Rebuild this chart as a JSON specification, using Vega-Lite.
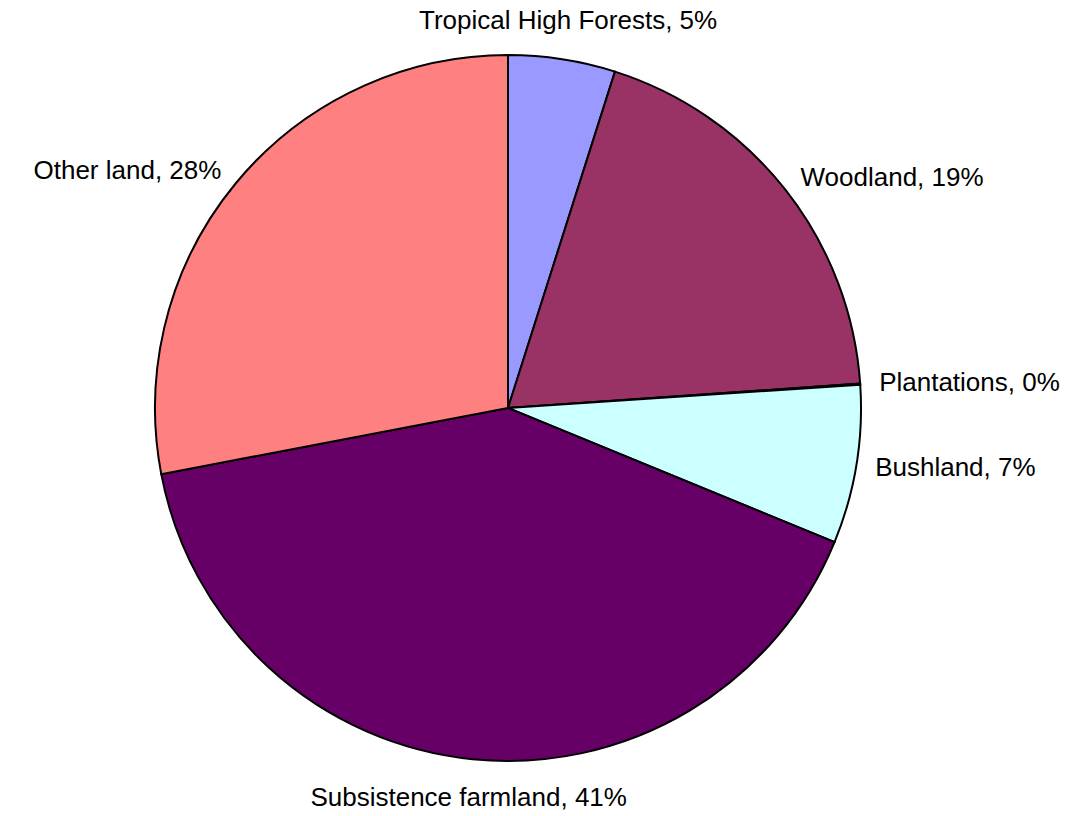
{
  "$schema": "https://vega.github.io/schema/vega-lite/v6.json",
  "width": 1016,
  "height": 816,
  "autosize": "none",
  "padding": {"left": 0, "top": 0, "right": 63, "bottom": 0},
  "background": "white",
  "view": {"stroke": null},
  "data": {
    "values": [
      {"order": 1, "category": "Tropical High Forests", "value": 4.9, "label": "Tropical High Forests, 5%"},
      {"order": 2, "category": "Woodland", "value": 19.0, "label": "Woodland, 19%"},
      {"order": 3, "category": "Plantations", "value": 0.05, "label": "Plantations, 0%"},
      {"order": 4, "category": "Bushland", "value": 7.25, "label": "Bushland, 7%"},
      {"order": 5, "category": "Subsistence farmland", "value": 40.8, "label": "Subsistence farmland, 41%"},
      {"order": 6, "category": "Other land", "value": 28.0, "label": "Other land, 28%"}
    ]
  },
  "encoding": {
    "theta": {"field": "value", "type": "quantitative", "stack": true},
    "order": {"field": "order", "type": "quantitative"}
  },
  "layer": [
    {
      "mark": {"type": "arc", "radius": 353, "stroke": "black", "strokeWidth": 2},
      "encoding": {
        "color": {
          "field": "category",
          "type": "nominal",
          "sort": null,
          "legend": null,
          "scale": {
            "domain": ["Tropical High Forests", "Woodland", "Plantations", "Bushland", "Subsistence farmland", "Other land"],
            "range": ["#9999FF", "#993366", "#FFFFCC", "#CCFFFF", "#660066", "#FF8080"]
          }
        }
      }
    },
    {
      "mark": {
        "type": "text",
        "radius": {"expr": "(datum.category == 'Tropical High Forests' || datum.category == 'Subsistence farmland') ? 392 : 372"},
        "font": "Liberation Sans",
        "fontSize": 26,
        "color": "black",
        "align": {"expr": "indexof(['Woodland','Plantations','Bushland'], datum.category) >= 0 ? 'left' : (datum.category == 'Other land' ? 'right' : 'center')"}
      },
      "encoding": {
        "text": {"field": "label", "type": "nominal"}
      }
    }
  ]
}
